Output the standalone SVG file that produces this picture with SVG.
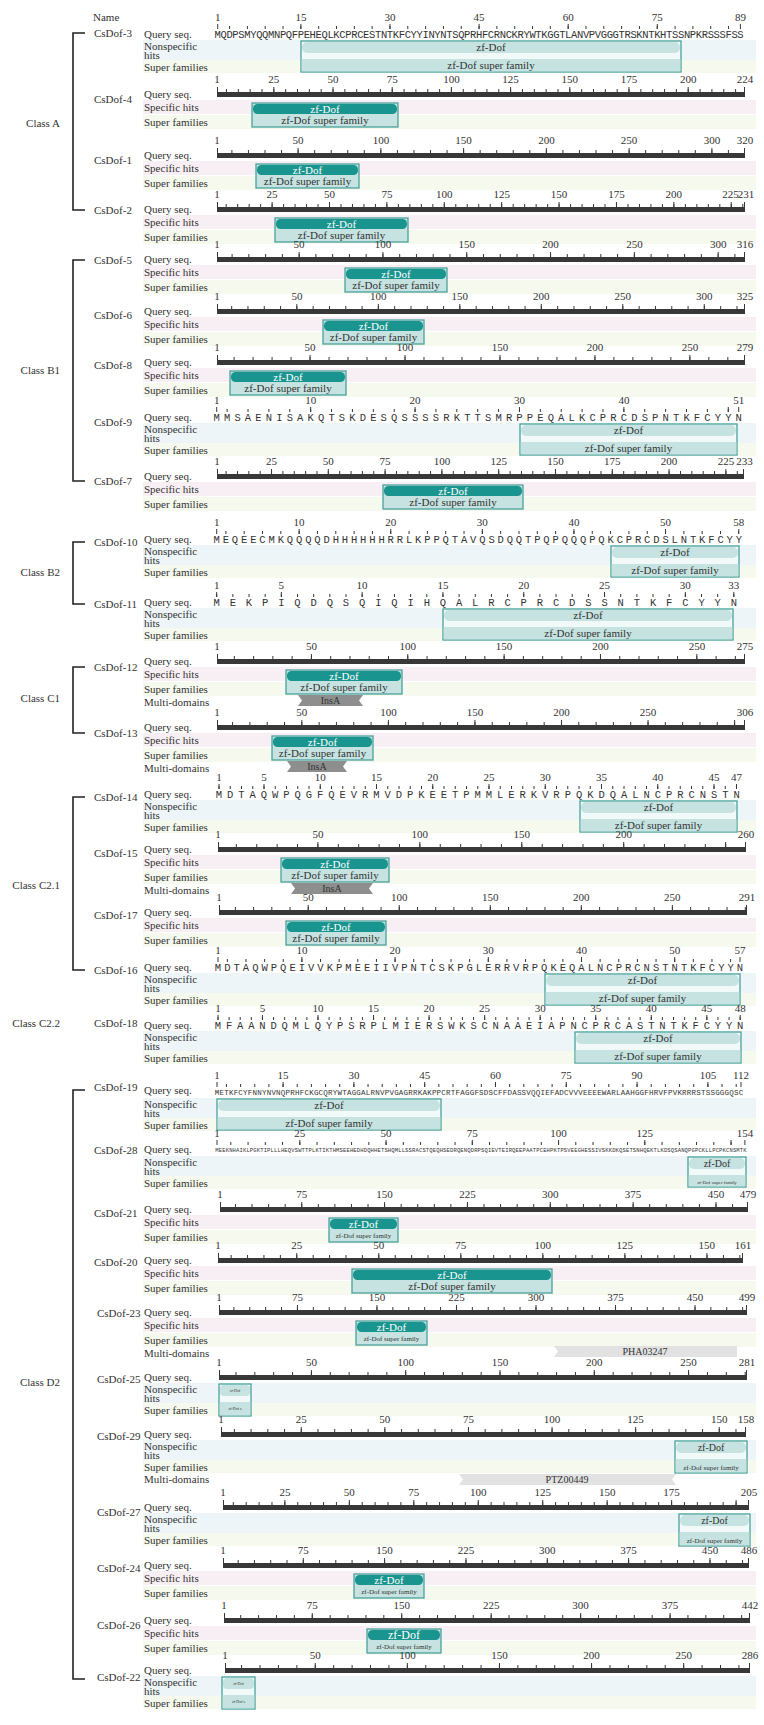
<svg xmlns="http://www.w3.org/2000/svg" width="764" height="1725" viewBox="0 0 764 1725">
<style>
text{font-family:"Liberation Serif","Times New Roman",serif;fill:#333;font-size:11px}
.n{text-anchor:middle}
.cl{text-anchor:end}
.sq{font-family:"Liberation Mono","Courier New",monospace;font-size:10.5px}
.bar{fill:#383838}
.tk{stroke:#383838;stroke-width:1;fill:none}
.t3{stroke-width:3}
.t5{stroke-width:5}
.bs{fill:#f8eff4}
.bf{fill:#f6f9ee}
.bn{fill:#edf5f8}
.ob{fill:#c6e3e1;stroke:#48a29c;stroke-width:1.3}
.on{fill:#f2f9f9;stroke:#48a29c;stroke-width:1.3}
.dk{fill:#1a948e}
.lt{fill:#c6e3e1}
.wt{fill:#fff}
.md1{fill:#8e8e8e}
.md2{fill:#e2e2e2}
.br{stroke:#222;stroke-width:1.6;fill:none}
.f4{font-size:4px}.f5{font-size:5px}.f7{font-size:7px}.f10{font-size:10px}.f12{font-size:12px}
</style>
<rect width="764" height="1725" fill="#fff"/>
<text x="93" y="20.5">Name</text>
<g id="connectors"><path class="br" d="M85 33H73V210H85M85 260H73V481H85M85 542H73V604H85M85 667H73V733H85M85 797H73V970H85M85 1090H73V1679H85"/></g>
<g id="classes">
<text class="cl" x="60" y="127">Class A</text>
<text class="cl" x="60" y="374">Class B1</text>
<text class="cl" x="60" y="576">Class B2</text>
<text class="cl" x="60" y="702">Class C1</text>
<text class="cl" x="60" y="889">Class C2.1</text>
<text class="cl" x="60" y="1027">Class C2.2</text>
<text class="cl" x="60" y="1386">Class D2</text>
</g>

<g id="CsDof-3">
<rect class="bn" x="143" y="40" width="613" height="20"/><rect class="bf" x="143" y="60" width="613" height="13"/>
<text x="94" y="36.8">CsDof-3</text><text x="144" y="38">Query seq.</text><text x="144" y="50">Nonspecific</text><text x="144" y="59">hits</text><text x="144" y="71">Super families</text>
<text class="n" y="20.8"><tspan x="217.7">1</tspan><tspan x="300.9">15</tspan><tspan x="390">30</tspan><tspan x="479.1">45</tspan><tspan x="568.2">60</tspan><tspan x="657.3">75</tspan><tspan x="740.4">89</tspan></text>
<line class="tk t3" x1="229.08" y1="27.5" x2="741" y2="27.5" stroke-dasharray="1 16.82"/>
<line class="tk t5" x1="300.36" y1="26.5" x2="741" y2="26.5" stroke-dasharray="1 88.1"/>
<path class="tk" d="M217.7 24v5M740.4 24v5"/>
<text class="sq" x="214.55" y="37.7" style="letter-spacing:-0.36px">MQDPSMYQQMNPQFPEHEQLKCPRCESTNTKFCYYINYNTSQPRHFCRNCKRYWTKGGTLANVPVGGGTRSKNTKHTSSNPKRSSSFSS</text>
<rect class="on" x="301" y="41" width="380" height="31"/><rect class="lt" x="302" y="42" width="378" height="11" rx="5"/><rect class="lt" x="301.7" y="59" width="378.6" height="12.3"/>
<text class="n" x="491" y="51.3">zf-Dof</text><text class="n" x="491" y="69">zf-Dof super family</text>
</g>

<g id="CsDof-4">
<rect class="bs" x="143" y="100" width="613" height="14"/><rect class="bf" x="143" y="115" width="613" height="14"/>
<text x="94" y="102.8">CsDof-4</text><text x="144" y="98">Query seq.</text><text x="144" y="111">Specific hits</text><text x="144" y="126">Super families</text>
<text class="n" y="83"><tspan x="217">1</tspan><tspan x="273.8">25</tspan><tspan x="333">50</tspan><tspan x="392.2">75</tspan><tspan x="451.4">100</tspan><tspan x="510.6">125</tspan><tspan x="569.8">150</tspan><tspan x="629">175</tspan><tspan x="688.2">200</tspan><tspan x="745">224</tspan></text>
<rect class="bar" x="217" y="92" width="528" height="5"/>
<line class="tk t3" x1="225.97" y1="90.5" x2="745" y2="90.5" stroke-dasharray="1 10.84"/>
<line class="tk t5" x1="273.33" y1="89.5" x2="745" y2="89.5" stroke-dasharray="1 58.19"/>
<path class="tk" d="M217.5 87v5M744.5 87v5"/>
<rect class="ob" x="252" y="103" width="146" height="24"/><rect class="dk" x="253" y="104" width="144" height="10" rx="4.5"/>
<text class="n wt" x="325" y="112.8">zf-Dof</text><text class="n" x="325" y="124">zf-Dof super family</text>
</g>

<g id="CsDof-1">
<rect class="bs" x="143" y="161" width="613" height="14"/><rect class="bf" x="143" y="176" width="613" height="14"/>
<text x="94" y="163.8">CsDof-1</text><text x="144" y="159">Query seq.</text><text x="144" y="172">Specific hits</text><text x="144" y="187">Super families</text>
<text class="n" y="144"><tspan x="217">1</tspan><tspan x="298.1">50</tspan><tspan x="380.9">100</tspan><tspan x="463.6">150</tspan><tspan x="546.4">200</tspan><tspan x="629.1">250</tspan><tspan x="711.9">300</tspan><tspan x="745">320</tspan></text>
<rect class="bar" x="217" y="153" width="528" height="5"/>
<line class="tk t3" x1="231.4" y1="151.5" x2="745" y2="151.5" stroke-dasharray="1 15.55"/>
<line class="tk t5" x1="297.6" y1="150.5" x2="745" y2="150.5" stroke-dasharray="1 81.76"/>
<path class="tk" d="M217.5 148v5M744.5 148v5"/>
<rect class="ob" x="256" y="164" width="103" height="24"/><rect class="dk" x="257" y="165" width="101" height="10" rx="4.5"/>
<text class="n wt" x="307.5" y="173.8">zf-Dof</text><text class="n" x="307.5" y="185">zf-Dof super family</text>
</g>

<g id="CsDof-2">
<rect class="bs" x="143" y="215" width="613" height="14"/><rect class="bf" x="143" y="230" width="613" height="14"/>
<text x="94" y="213.8">CsDof-2</text><text x="144" y="213">Query seq.</text><text x="144" y="226">Specific hits</text><text x="144" y="241">Super families</text>
<text class="n" y="198"><tspan x="217">1</tspan><tspan x="272.1">25</tspan><tspan x="329.5">50</tspan><tspan x="386.9">75</tspan><tspan x="444.3">100</tspan><tspan x="501.7">125</tspan><tspan x="559">150</tspan><tspan x="616.4">175</tspan><tspan x="673.8">200</tspan><tspan x="730.5">225</tspan><tspan x="746">231</tspan></text>
<rect class="bar" x="217" y="207" width="528" height="5"/>
<line class="tk t3" x1="225.68" y1="205.5" x2="745" y2="205.5" stroke-dasharray="1 10.48"/>
<line class="tk t5" x1="271.6" y1="204.5" x2="745" y2="204.5" stroke-dasharray="1 56.39"/>
<path class="tk" d="M217.5 202v5M744.5 202v5"/>
<rect class="ob" x="275" y="218" width="133" height="24"/><rect class="dk" x="276" y="219" width="131" height="10" rx="4.5"/>
<text class="n wt" x="341.5" y="227.8">zf-Dof</text><text class="n" x="341.5" y="239">zf-Dof super family</text>
</g>

<g id="CsDof-5">
<rect class="bs" x="143" y="265" width="613" height="14"/><rect class="bf" x="143" y="280" width="613" height="14"/>
<text x="94" y="263.8">CsDof-5</text><text x="144" y="263">Query seq.</text><text x="144" y="276">Specific hits</text><text x="144" y="291">Super families</text>
<text class="n" y="248"><tspan x="217">1</tspan><tspan x="299.1">50</tspan><tspan x="382.9">100</tspan><tspan x="466.8">150</tspan><tspan x="550.6">200</tspan><tspan x="634.4">250</tspan><tspan x="718.2">300</tspan><tspan x="745">316</tspan></text>
<rect class="bar" x="217" y="257" width="528" height="5"/>
<line class="tk t3" x1="231.59" y1="255.5" x2="745" y2="255.5" stroke-dasharray="1 15.76"/>
<line class="tk t5" x1="298.63" y1="254.5" x2="745" y2="254.5" stroke-dasharray="1 82.81"/>
<path class="tk" d="M217.5 252v5M744.5 252v5"/>
<rect class="ob" x="345" y="268" width="102" height="24"/><rect class="dk" x="346" y="269" width="100" height="10" rx="4.5"/>
<text class="n wt" x="396" y="277.8">zf-Dof</text><text class="n" x="396" y="289">zf-Dof super family</text>
</g>

<g id="CsDof-6">
<rect class="bs" x="143" y="317" width="613" height="14"/><rect class="bf" x="143" y="332" width="613" height="14"/>
<text x="94" y="318.8">CsDof-6</text><text x="144" y="315">Query seq.</text><text x="144" y="328">Specific hits</text><text x="144" y="343">Super families</text>
<text class="n" y="300"><tspan x="217">1</tspan><tspan x="296.9">50</tspan><tspan x="378.3">100</tspan><tspan x="459.8">150</tspan><tspan x="541.3">200</tspan><tspan x="622.8">250</tspan><tspan x="704.3">300</tspan><tspan x="745">325</tspan></text>
<rect class="bar" x="217" y="309" width="528" height="5"/>
<line class="tk t3" x1="231.17" y1="307.5" x2="745" y2="307.5" stroke-dasharray="1 15.3"/>
<line class="tk t5" x1="296.35" y1="306.5" x2="745" y2="306.5" stroke-dasharray="1 80.48"/>
<path class="tk" d="M217.5 304v5M744.5 304v5"/>
<rect class="ob" x="323" y="320" width="101" height="24"/><rect class="dk" x="324" y="321" width="99" height="10" rx="4.5"/>
<text class="n wt" x="373.5" y="329.8">zf-Dof</text><text class="n" x="373.5" y="341">zf-Dof super family</text>
</g>

<g id="CsDof-8">
<rect class="bs" x="143" y="368" width="613" height="14"/><rect class="bf" x="143" y="383" width="613" height="14"/>
<text x="94" y="368.8">CsDof-8</text><text x="144" y="366">Query seq.</text><text x="144" y="379">Specific hits</text><text x="144" y="394">Super families</text>
<text class="n" y="351"><tspan x="217">1</tspan><tspan x="310.1">50</tspan><tspan x="405">100</tspan><tspan x="500">150</tspan><tspan x="595">200</tspan><tspan x="689.9">250</tspan><tspan x="745">279</tspan></text>
<rect class="bar" x="217" y="360" width="528" height="5"/>
<line class="tk t3" x1="233.59" y1="358.5" x2="745" y2="358.5" stroke-dasharray="1 17.99"/>
<line class="tk t5" x1="309.56" y1="357.5" x2="745" y2="357.5" stroke-dasharray="1 93.96"/>
<path class="tk" d="M217.5 355v5M744.5 355v5"/>
<rect class="ob" x="230" y="371" width="116" height="24"/><rect class="dk" x="231" y="372" width="114" height="10" rx="4.5"/>
<text class="n wt" x="288" y="380.8">zf-Dof</text><text class="n" x="288" y="392">zf-Dof super family</text>
</g>

<g id="CsDof-9">
<rect class="bn" x="143" y="423" width="613" height="20"/><rect class="bf" x="143" y="443" width="613" height="13"/>
<text x="94" y="425.8">CsDof-9</text><text x="144" y="421">Query seq.</text><text x="144" y="433">Nonspecific</text><text x="144" y="442">hits</text><text x="144" y="454">Super families</text>
<text class="n" y="403.8"><tspan x="216.7">1</tspan><tspan x="310.7">10</tspan><tspan x="415.1">20</tspan><tspan x="519.5">30</tspan><tspan x="623.9">40</tspan><tspan x="738.7">51</tspan></text>
<line class="tk t3" x1="226.64" y1="410.5" x2="739" y2="410.5" stroke-dasharray="1 19.88"/>
<line class="tk t5" x1="310.16" y1="409.5" x2="739" y2="409.5" stroke-dasharray="1 103.4"/>
<path class="tk" d="M216.7 407v5M738.7 407v5"/>
<text class="sq" x="213.55" y="420.7" style="letter-spacing:4.14px">MMSAENISAKQTSKDESQSSSSRKTTSMRPPEQALKCPRCDSPNTKFCYYN</text>
<rect class="on" x="520" y="424" width="217" height="31"/><rect class="lt" x="521" y="425" width="215" height="11" rx="5"/><rect class="lt" x="520.7" y="442" width="215.6" height="12.3"/>
<text class="n" x="628.5" y="434.3">zf-Dof</text><text class="n" x="628.5" y="452">zf-Dof super family</text>
</g>

<g id="CsDof-7">
<rect class="bs" x="143" y="482" width="613" height="14"/><rect class="bf" x="143" y="497" width="613" height="14"/>
<text x="94" y="484.8">CsDof-7</text><text x="144" y="480">Query seq.</text><text x="144" y="493">Specific hits</text><text x="144" y="508">Super families</text>
<text class="n" y="465"><tspan x="217">1</tspan><tspan x="271.5">25</tspan><tspan x="328.3">50</tspan><tspan x="385.1">75</tspan><tspan x="441.9">100</tspan><tspan x="498.7">125</tspan><tspan x="555.5">150</tspan><tspan x="612.3">175</tspan><tspan x="669.1">200</tspan><tspan x="725.9">225</tspan><tspan x="744.5">233</tspan></text>
<rect class="bar" x="217" y="474" width="527" height="5"/>
<line class="tk t3" x1="225.59" y1="472.5" x2="744" y2="472.5" stroke-dasharray="1 10.36"/>
<line class="tk t5" x1="271.02" y1="471.5" x2="744" y2="471.5" stroke-dasharray="1 55.79"/>
<path class="tk" d="M217.5 469v5M743.5 469v5"/>
<rect class="ob" x="383" y="485" width="140" height="24"/><rect class="dk" x="384" y="486" width="138" height="10" rx="4.5"/>
<text class="n wt" x="453" y="494.8">zf-Dof</text><text class="n" x="453" y="506">zf-Dof super family</text>
</g>

<g id="CsDof-10">
<rect class="bn" x="143" y="545" width="613" height="20"/><rect class="bf" x="143" y="565" width="613" height="13"/>
<text x="94" y="545.8">CsDof-10</text><text x="144" y="543">Query seq.</text><text x="144" y="555">Nonspecific</text><text x="144" y="564">hits</text><text x="144" y="576">Super families</text>
<text class="n" y="525.8"><tspan x="216.7">1</tspan><tspan x="299.1">10</tspan><tspan x="390.7">20</tspan><tspan x="482.3">30</tspan><tspan x="573.9">40</tspan><tspan x="665.5">50</tspan><tspan x="738.8">58</tspan></text>
<line class="tk t3" x1="225.36" y1="532.5" x2="739" y2="532.5" stroke-dasharray="1 17.32"/>
<line class="tk t5" x1="298.64" y1="531.5" x2="739" y2="531.5" stroke-dasharray="1 90.6"/>
<path class="tk" d="M216.7 529v5M738.8 529v5"/>
<text class="sq" x="213.55" y="542.7" style="letter-spacing:2.86px">MEQEECMKQQQQDHHHHHHRRLKPPQTAVQSDQQTPQPQQQPQKCPRCDSLNTKFCYY</text>
<rect class="on" x="611" y="546" width="128" height="31"/><rect class="lt" x="612" y="547" width="126" height="11" rx="5"/><rect class="lt" x="611.7" y="564" width="126.6" height="12.3"/>
<text class="n" x="675" y="556.3">zf-Dof</text><text class="n" x="675" y="574">zf-Dof super family</text>
</g>

<g id="CsDof-11">
<rect class="bn" x="143" y="608" width="613" height="20"/><rect class="bf" x="143" y="628" width="613" height="13"/>
<text x="94" y="607.8">CsDof-11</text><text x="144" y="606">Query seq.</text><text x="144" y="618">Nonspecific</text><text x="144" y="627">hits</text><text x="144" y="639">Super families</text>
<text class="n" y="588.8"><tspan x="216.7">1</tspan><tspan x="281.3">5</tspan><tspan x="362.1">10</tspan><tspan x="442.9">15</tspan><tspan x="523.7">20</tspan><tspan x="604.5">25</tspan><tspan x="685.3">30</tspan><tspan x="733.8">33</tspan></text>
<line class="tk t3" x1="216.2" y1="595.5" x2="735" y2="595.5" stroke-dasharray="1 15.16"/>
<line class="tk t5" x1="280.84" y1="594.5" x2="735" y2="594.5" stroke-dasharray="1 79.8"/>
<path class="tk" d="M216.7 592v5M733.8 592v5"/>
<text class="sq" x="213.55" y="605.7" style="letter-spacing:9.86px">MEKPIQDQSQIQIHQALRCPRCDSSNTKFCYYN</text>
<rect class="on" x="443" y="609" width="290" height="31"/><rect class="lt" x="444" y="610" width="288" height="11" rx="5"/><rect class="lt" x="443.7" y="627" width="288.6" height="12.3"/>
<text class="n" x="588" y="619.3">zf-Dof</text><text class="n" x="588" y="637">zf-Dof super family</text>
</g>

<g id="CsDof-12">
<rect class="bs" x="143" y="667" width="613" height="14"/><rect class="bf" x="143" y="682" width="613" height="14"/>
<text x="94" y="670.8">CsDof-12</text><text x="144" y="665">Query seq.</text><text x="144" y="678">Specific hits</text><text x="144" y="693">Super families</text><text x="144" y="706">Multi-domains</text>
<text class="n" y="650"><tspan x="217">1</tspan><tspan x="311.4">50</tspan><tspan x="407.8">100</tspan><tspan x="504.1">150</tspan><tspan x="600.5">200</tspan><tspan x="696.9">250</tspan><tspan x="745">275</tspan></text>
<rect class="bar" x="217" y="659" width="528" height="5"/>
<line class="tk t3" x1="233.84" y1="657.5" x2="745" y2="657.5" stroke-dasharray="1 18.27"/>
<line class="tk t5" x1="310.92" y1="656.5" x2="745" y2="656.5" stroke-dasharray="1 95.35"/>
<path class="tk" d="M217.5 654v5M744.5 654v5"/>
<rect class="ob" x="286" y="670" width="116" height="24"/><rect class="dk" x="287" y="671" width="114" height="10" rx="4.5"/>
<text class="n wt" x="344" y="679.8">zf-Dof</text><text class="n" x="344" y="691">zf-Dof super family</text>
<polygon class="md1" points="298,695 363,695 359,700.5 363,706 298,706 302,700.5"/><text class="n f10" x="330.5" y="704">InsA</text>
</g>

<g id="CsDof-13">
<rect class="bs" x="143" y="733" width="613" height="14"/><rect class="bf" x="143" y="748" width="613" height="14"/>
<text x="94" y="736.8">CsDof-13</text><text x="144" y="731">Query seq.</text><text x="144" y="744">Specific hits</text><text x="144" y="759">Super families</text><text x="144" y="772">Multi-domains</text>
<text class="n" y="716"><tspan x="217">1</tspan><tspan x="301.8">50</tspan><tspan x="388.4">100</tspan><tspan x="475">150</tspan><tspan x="561.5">200</tspan><tspan x="648.1">250</tspan><tspan x="745">306</tspan></text>
<rect class="bar" x="217" y="725" width="528" height="5"/>
<line class="tk t3" x1="232.08" y1="723.5" x2="745" y2="723.5" stroke-dasharray="1 16.31"/>
<line class="tk t5" x1="301.32" y1="722.5" x2="745" y2="722.5" stroke-dasharray="1 85.56"/>
<path class="tk" d="M217.5 720v5M744.5 720v5"/>
<rect class="ob" x="272" y="736" width="101" height="24"/><rect class="dk" x="273" y="737" width="99" height="10" rx="4.5"/>
<text class="n wt" x="322.5" y="745.8">zf-Dof</text><text class="n" x="322.5" y="757">zf-Dof super family</text>
<polygon class="md1" points="287,761 347,761 343,766.5 347,772 287,772 291,766.5"/><text class="n f10" x="317" y="770">InsA</text>
</g>

<g id="CsDof-14">
<rect class="bn" x="143" y="800" width="613" height="20"/><rect class="bf" x="143" y="820" width="613" height="13"/>
<text x="94" y="800.8">CsDof-14</text><text x="144" y="798">Query seq.</text><text x="144" y="810">Nonspecific</text><text x="144" y="819">hits</text><text x="144" y="831">Super families</text>
<text class="n" y="780.8"><tspan x="219">1</tspan><tspan x="264">5</tspan><tspan x="320.3">10</tspan><tspan x="376.5">15</tspan><tspan x="432.8">20</tspan><tspan x="489">25</tspan><tspan x="545.3">30</tspan><tspan x="601.5">35</tspan><tspan x="657.8">40</tspan><tspan x="714">45</tspan><tspan x="736.5">47</tspan></text>
<line class="tk t3" x1="218.5" y1="787.5" x2="737" y2="787.5" stroke-dasharray="1 10.25"/>
<line class="tk t5" x1="263.5" y1="786.5" x2="737" y2="786.5" stroke-dasharray="1 55.25"/>
<path class="tk" d="M219 784v5M736.5 784v5"/>
<text class="sq" x="215.85" y="797.7" style="letter-spacing:4.95px">MDTAQWPQGFQEVRMVDPKEETPMMLERKVRPQKDQALNCPRCNSTN</text>
<rect class="on" x="580" y="801" width="157" height="31"/><rect class="lt" x="581" y="802" width="155" height="11" rx="5"/><rect class="lt" x="580.7" y="819" width="155.6" height="12.3"/>
<text class="n" x="658.5" y="811.3">zf-Dof</text><text class="n" x="658.5" y="829">zf-Dof super family</text>
</g>

<g id="CsDof-15">
<rect class="bs" x="143" y="855" width="613" height="14"/><rect class="bf" x="143" y="870" width="613" height="14"/>
<text x="94" y="856.8">CsDof-15</text><text x="144" y="853">Query seq.</text><text x="144" y="866">Specific hits</text><text x="144" y="881">Super families</text><text x="144" y="894">Multi-domains</text>
<text class="n" y="838"><tspan x="218">1</tspan><tspan x="317.9">50</tspan><tspan x="419.8">100</tspan><tspan x="521.8">150</tspan><tspan x="623.7">200</tspan><tspan x="746">260</tspan></text>
<rect class="bar" x="218" y="847" width="528" height="5"/>
<line class="tk t3" x1="235.85" y1="845.5" x2="746" y2="845.5" stroke-dasharray="1 19.39"/>
<line class="tk t5" x1="317.39" y1="844.5" x2="746" y2="844.5" stroke-dasharray="1 100.93"/>
<path class="tk" d="M218.5 842v5M745.5 842v5"/>
<rect class="ob" x="281" y="858" width="108" height="24"/><rect class="dk" x="282" y="859" width="106" height="10" rx="4.5"/>
<text class="n wt" x="335" y="867.8">zf-Dof</text><text class="n" x="335" y="879">zf-Dof super family</text>
<polygon class="md1" points="291,883 373,883 369,888.5 373,894 291,894 295,888.5"/><text class="n f10" x="332" y="892">InsA</text>
</g>

<g id="CsDof-17">
<rect class="bs" x="143" y="918" width="613" height="14"/><rect class="bf" x="143" y="933" width="613" height="14"/>
<text x="94" y="918.8">CsDof-17</text><text x="144" y="916">Query seq.</text><text x="144" y="929">Specific hits</text><text x="144" y="944">Super families</text>
<text class="n" y="901"><tspan x="219">1</tspan><tspan x="308.2">50</tspan><tspan x="399.2">100</tspan><tspan x="490.3">150</tspan><tspan x="581.3">200</tspan><tspan x="672.3">250</tspan><tspan x="747">291</tspan></text>
<rect class="bar" x="219" y="910" width="528" height="5"/>
<line class="tk t3" x1="234.89" y1="908.5" x2="747" y2="908.5" stroke-dasharray="1 17.21"/>
<line class="tk t5" x1="307.71" y1="907.5" x2="747" y2="907.5" stroke-dasharray="1 90.03"/>
<path class="tk" d="M219.5 905v5M746.5 905v5"/>
<rect class="ob" x="286" y="921" width="100" height="24"/><rect class="dk" x="287" y="922" width="98" height="10" rx="4.5"/>
<text class="n wt" x="336" y="930.8">zf-Dof</text><text class="n" x="336" y="942">zf-Dof super family</text>
</g>

<g id="CsDof-16">
<rect class="bn" x="143" y="973" width="613" height="20"/><rect class="bf" x="143" y="993" width="613" height="13"/>
<text x="94" y="973.8">CsDof-16</text><text x="144" y="971">Query seq.</text><text x="144" y="983">Nonspecific</text><text x="144" y="992">hits</text><text x="144" y="1004">Super families</text>
<text class="n" y="953.8"><tspan x="218">1</tspan><tspan x="301.9">10</tspan><tspan x="395.1">20</tspan><tspan x="488.3">30</tspan><tspan x="581.5">40</tspan><tspan x="674.7">50</tspan><tspan x="740">57</tspan></text>
<line class="tk t3" x1="226.82" y1="960.5" x2="741" y2="960.5" stroke-dasharray="1 17.64"/>
<line class="tk t5" x1="301.38" y1="959.5" x2="741" y2="959.5" stroke-dasharray="1 92.2"/>
<path class="tk" d="M218 957v5M740 957v5"/>
<text class="sq" x="214.85" y="970.7" style="letter-spacing:3.02px">MDTAQWPQEIVVKPMEEIIVPNTCSKPGLERRVRPQKEQALNCPRCNSTNTKFCYYN</text>
<rect class="on" x="545" y="974" width="195" height="31"/><rect class="lt" x="546" y="975" width="193" height="11" rx="5"/><rect class="lt" x="545.7" y="992" width="193.6" height="12.3"/>
<text class="n" x="642.5" y="984.3">zf-Dof</text><text class="n" x="642.5" y="1002">zf-Dof super family</text>
</g>

<g id="CsDof-18">
<rect class="bn" x="143" y="1031" width="613" height="20"/><rect class="bf" x="143" y="1051" width="613" height="13"/>
<text x="94" y="1026.8">CsDof-18</text><text x="144" y="1029">Query seq.</text><text x="144" y="1041">Nonspecific</text><text x="144" y="1050">hits</text><text x="144" y="1062">Super families</text>
<text class="n" y="1011.8"><tspan x="218">1</tspan><tspan x="262.4">5</tspan><tspan x="318">10</tspan><tspan x="373.5">15</tspan><tspan x="429.1">20</tspan><tspan x="484.6">25</tspan><tspan x="540.2">30</tspan><tspan x="595.7">35</tspan><tspan x="651.3">40</tspan><tspan x="706.8">45</tspan><tspan x="740.2">48</tspan></text>
<line class="tk t3" x1="217.5" y1="1018.5" x2="741" y2="1018.5" stroke-dasharray="1 10.11"/>
<line class="tk t5" x1="261.94" y1="1017.5" x2="741" y2="1017.5" stroke-dasharray="1 54.55"/>
<path class="tk" d="M218 1015v5M740.2 1015v5"/>
<text class="sq" x="214.85" y="1028.7" style="letter-spacing:4.81px">MFAANDQMLQYPSRPLMIERSWKSCNAAEIAPNCPRCASTNTKFCYYN</text>
<rect class="on" x="575" y="1032" width="166" height="31"/><rect class="lt" x="576" y="1033" width="164" height="11" rx="5"/><rect class="lt" x="575.7" y="1050" width="164.6" height="12.3"/>
<text class="n" x="658" y="1042.3">zf-Dof</text><text class="n" x="658" y="1060">zf-Dof super family</text>
</g>

<g id="CsDof-19">
<rect class="bn" x="143" y="1098" width="613" height="20"/><rect class="bf" x="143" y="1118" width="613" height="13"/>
<text x="94" y="1090.8">CsDof-19</text><text x="144" y="1094">Query seq.</text><text x="144" y="1108">Nonspecific</text><text x="144" y="1117">hits</text><text x="144" y="1129">Super families</text>
<text class="n" y="1078.8"><tspan x="217">1</tspan><tspan x="283.1">15</tspan><tspan x="353.9">30</tspan><tspan x="424.7">45</tspan><tspan x="495.5">60</tspan><tspan x="566.3">75</tspan><tspan x="637.1">90</tspan><tspan x="707.9">105</tspan><tspan x="741">112</tspan></text>
<line class="tk t3" x1="225.94" y1="1085.5" x2="742" y2="1085.5" stroke-dasharray="1 13.16"/>
<line class="tk t5" x1="282.58" y1="1084.5" x2="742" y2="1084.5" stroke-dasharray="1 69.8"/>
<path class="tk" d="M217 1082v5M741 1082v5"/>
<text class="sq" x="214.75" y="1094.5" style="font-size:7.5px;letter-spacing:0.22px">METKFCYFNNYNVNQPRHFCKGCQRYWTAGGALRNVPVGAGRRKAKPPCRTFAGGFSDSCFFDASSVQQIEFADCVVVEEEEWARLAAHGGFHRVFPVKRRRSTSSGGGQSC</text>
<rect class="on" x="217" y="1099" width="224" height="31"/><rect class="lt" x="218" y="1100" width="222" height="11" rx="5"/><rect class="lt" x="217.7" y="1117" width="222.6" height="12.3"/>
<text class="n" x="329" y="1109.3">zf-Dof</text><text class="n" x="329" y="1127">zf-Dof super family</text>
</g>

<g id="CsDof-28">
<rect class="bn" x="143" y="1156" width="613" height="20"/><rect class="bf" x="143" y="1176" width="613" height="13"/>
<text x="94" y="1153.8">CsDof-28</text><text x="144" y="1153">Query seq.</text><text x="144" y="1166">Nonspecific</text><text x="144" y="1175">hits</text><text x="144" y="1187">Super families</text>
<text class="n" y="1136.8"><tspan x="217">1</tspan><tspan x="299.8">25</tspan><tspan x="386.1">50</tspan><tspan x="472.3">75</tspan><tspan x="558.6">100</tspan><tspan x="644.8">125</tspan><tspan x="744.9">154</tspan></text>
<line class="tk t3" x1="230.3" y1="1143.5" x2="745" y2="1143.5" stroke-dasharray="1 16.25"/>
<line class="tk t5" x1="299.3" y1="1142.5" x2="745" y2="1142.5" stroke-dasharray="1 85.25"/>
<path class="tk" d="M217 1140v5M744.9 1140v5"/>
<text class="sq" x="215.35" y="1152" style="font-size:5.5px;letter-spacing:0.15px">MEEKNHAIKLPGKTIPLLLHEQVSWTTPLKTIKTHMSEEHEDHDQHHETSHQMLLSSRACSTQEQHSEDRQENQDRPSQIEVTEIRQEEPAATPCEHPKTPSVEEGHESSIVSKKDKQSETSNHQEKTLKDSQSANQPGPCKLLPCPKCNSMTK</text>
<rect class="on" x="688" y="1157" width="58" height="30"/><rect class="lt" x="689" y="1158" width="56" height="11" rx="5"/><rect class="lt" x="688.7" y="1175" width="56.6" height="11.3"/>
<text class="n f10" x="717" y="1166.5">zf-Dof</text><text class="n f5" x="717" y="1183.5">zf-Dof super family</text>
</g>

<g id="CsDof-21">
<rect class="bs" x="143" y="1215" width="613" height="14"/><rect class="bf" x="143" y="1230" width="613" height="14"/>
<text x="94" y="1216.8">CsDof-21</text><text x="144" y="1213">Query seq.</text><text x="144" y="1226">Specific hits</text><text x="144" y="1241">Super families</text>
<text class="n" y="1198"><tspan x="220">1</tspan><tspan x="301.7">75</tspan><tspan x="384.6">150</tspan><tspan x="467.4">225</tspan><tspan x="550.3">300</tspan><tspan x="633.1">375</tspan><tspan x="715.9">450</tspan><tspan x="748">479</tspan></text>
<rect class="bar" x="220" y="1207" width="528" height="5"/>
<line class="tk t3" x1="234.96" y1="1205.5" x2="748" y2="1205.5" stroke-dasharray="1 15.57"/>
<line class="tk t5" x1="301.24" y1="1204.5" x2="748" y2="1204.5" stroke-dasharray="1 81.85"/>
<path class="tk" d="M220.5 1202v5M747.5 1202v5"/>
<rect class="ob" x="329" y="1218" width="69" height="24"/><rect class="dk" x="330" y="1219" width="67" height="10" rx="4.5"/>
<text class="n wt" x="363.5" y="1227.8">zf-Dof</text><text class="n f7" x="363.5" y="1238">zf-Dof super family</text>
</g>

<g id="CsDof-20">
<rect class="bs" x="143" y="1266" width="613" height="14"/><rect class="bf" x="143" y="1281" width="613" height="14"/>
<text x="94" y="1265.8">CsDof-20</text><text x="144" y="1264">Query seq.</text><text x="144" y="1277">Specific hits</text><text x="144" y="1292">Super families</text>
<text class="n" y="1249"><tspan x="218">1</tspan><tspan x="296.8">25</tspan><tspan x="378.8">50</tspan><tspan x="460.8">75</tspan><tspan x="542.8">100</tspan><tspan x="624.8">125</tspan><tspan x="706.8">150</tspan><tspan x="743">161</tspan></text>
<rect class="bar" x="218" y="1258" width="525" height="5"/>
<line class="tk t3" x1="230.63" y1="1256.5" x2="743" y2="1256.5" stroke-dasharray="1 15.41"/>
<line class="tk t5" x1="296.25" y1="1255.5" x2="743" y2="1255.5" stroke-dasharray="1 81.03"/>
<path class="tk" d="M218.5 1253v5M742.5 1253v5"/>
<rect class="ob" x="352" y="1269" width="200" height="24"/><rect class="dk" x="353" y="1270" width="198" height="10" rx="4.5"/>
<text class="n wt" x="452" y="1278.8">zf-Dof</text><text class="n" x="452" y="1290">zf-Dof super family</text>
</g>

<g id="CsDof-23">
<rect class="bs" x="143" y="1318" width="613" height="14"/><rect class="bf" x="143" y="1333" width="613" height="14"/>
<text x="97" y="1316.8">CsDof-23</text><text x="144" y="1316">Query seq.</text><text x="144" y="1329">Specific hits</text><text x="144" y="1344">Super families</text><text x="144" y="1357">Multi-domains</text>
<text class="n" y="1301"><tspan x="219">1</tspan><tspan x="297.5">75</tspan><tspan x="377">150</tspan><tspan x="456.5">225</tspan><tspan x="536">300</tspan><tspan x="615.5">375</tspan><tspan x="695.1">450</tspan><tspan x="747">499</tspan></text>
<rect class="bar" x="219" y="1310" width="528" height="5"/>
<line class="tk t3" x1="233.34" y1="1308.5" x2="747" y2="1308.5" stroke-dasharray="1 14.9"/>
<line class="tk t5" x1="296.96" y1="1307.5" x2="747" y2="1307.5" stroke-dasharray="1 78.52"/>
<path class="tk" d="M219.5 1305v5M746.5 1305v5"/>
<rect class="ob" x="356" y="1321" width="71" height="24"/><rect class="dk" x="357" y="1322" width="69" height="10" rx="4.5"/>
<text class="n wt" x="391.5" y="1330.8">zf-Dof</text><text class="n f7" x="391.5" y="1341">zf-Dof super family</text>
<polygon class="md2" points="554,1346 737,1346 737,1357 554,1357 558,1351.5"/><text class="n f10" x="645" y="1355">PHA03247</text>
</g>

<g id="CsDof-25">
<rect class="bn" x="143" y="1383" width="613" height="20"/><rect class="bf" x="143" y="1403" width="613" height="13"/>
<text x="97" y="1382.8">CsDof-25</text><text x="144" y="1381">Query seq.</text><text x="144" y="1393">Nonspecific</text><text x="144" y="1402">hits</text><text x="144" y="1414">Super families</text>
<text class="n" y="1366"><tspan x="219">1</tspan><tspan x="311.4">50</tspan><tspan x="405.7">100</tspan><tspan x="500">150</tspan><tspan x="594.3">200</tspan><tspan x="688.6">250</tspan><tspan x="747">281</tspan></text>
<rect class="bar" x="219" y="1375" width="528" height="5"/>
<line class="tk t3" x1="235.47" y1="1373.5" x2="747" y2="1373.5" stroke-dasharray="1 17.86"/>
<line class="tk t5" x1="310.9" y1="1372.5" x2="747" y2="1372.5" stroke-dasharray="1 93.29"/>
<path class="tk" d="M219.5 1370v5M746.5 1370v5"/>
<rect class="on" x="219" y="1384" width="32" height="32"/><rect class="lt" x="220" y="1385" width="30" height="11" rx="4"/><rect class="lt" x="219.7" y="1402" width="30.6" height="13.3"/>
<text class="n f4" x="235" y="1391.5">zf-Dof</text><text class="n f4" x="235" y="1410">zf-Dof s</text>
</g>

<g id="CsDof-29">
<rect class="bn" x="143" y="1440" width="613" height="20"/><rect class="bf" x="143" y="1460" width="613" height="13"/>
<text x="97" y="1439.8">CsDof-29</text><text x="144" y="1438">Query seq.</text><text x="144" y="1450">Nonspecific</text><text x="144" y="1459">hits</text><text x="144" y="1471">Super families</text><text x="144" y="1483">Multi-domains</text>
<text class="n" y="1423"><tspan x="221">1</tspan><tspan x="301.3">25</tspan><tspan x="384.8">50</tspan><tspan x="468.4">75</tspan><tspan x="552">100</tspan><tspan x="635.6">125</tspan><tspan x="719.2">150</tspan><tspan x="746">158</tspan></text>
<rect class="bar" x="221" y="1432" width="525" height="5"/>
<line class="tk t3" x1="233.88" y1="1430.5" x2="746" y2="1430.5" stroke-dasharray="1 15.72"/>
<line class="tk t5" x1="300.75" y1="1429.5" x2="746" y2="1429.5" stroke-dasharray="1 82.6"/>
<path class="tk" d="M221.5 1427v5M745.5 1427v5"/>
<rect class="on" x="675" y="1441" width="72" height="32"/><rect class="lt" x="676" y="1442" width="70" height="11" rx="5"/><rect class="lt" x="675.7" y="1459" width="70.6" height="13.3"/>
<text class="n f10" x="711" y="1450.5">zf-Dof</text><text class="n f7" x="711" y="1470">zf-Dof super family</text>
<polygon class="md2" points="459,1474 676,1474 672,1479.5 676,1485 459,1485 463,1479.5"/><text class="n f10" x="567" y="1483">PTZ00449</text>
</g>

<g id="CsDof-27">
<rect class="bn" x="143" y="1513" width="613" height="20"/><rect class="bf" x="143" y="1533" width="613" height="13"/>
<text x="97" y="1515.8">CsDof-27</text><text x="144" y="1511">Query seq.</text><text x="144" y="1523">Nonspecific</text><text x="144" y="1532">hits</text><text x="144" y="1544">Super families</text>
<text class="n" y="1496"><tspan x="223">1</tspan><tspan x="284.9">25</tspan><tspan x="349.3">50</tspan><tspan x="413.8">75</tspan><tspan x="478.3">100</tspan><tspan x="542.7">125</tspan><tspan x="607.2">150</tspan><tspan x="671.6">175</tspan><tspan x="749">205</tspan></text>
<rect class="bar" x="223" y="1505" width="526" height="5"/>
<line class="tk t3" x1="232.81" y1="1503.5" x2="749" y2="1503.5" stroke-dasharray="1 11.89"/>
<line class="tk t5" x1="284.38" y1="1502.5" x2="749" y2="1502.5" stroke-dasharray="1 63.46"/>
<path class="tk" d="M223.5 1500v5M748.5 1500v5"/>
<rect class="on" x="679" y="1514" width="71" height="32"/><rect class="lt" x="680" y="1515" width="69" height="11" rx="5"/><rect class="lt" x="679.7" y="1532" width="69.6" height="13.3"/>
<text class="n f10" x="714.5" y="1523.5">zf-Dof</text><text class="n f7" x="714.5" y="1543">zf-Dof super family</text>
</g>

<g id="CsDof-24">
<rect class="bs" x="143" y="1571" width="613" height="14"/><rect class="bf" x="143" y="1586" width="613" height="14"/>
<text x="97" y="1571.8">CsDof-24</text><text x="144" y="1569">Query seq.</text><text x="144" y="1582">Specific hits</text><text x="144" y="1597">Super families</text>
<text class="n" y="1554"><tspan x="223">1</tspan><tspan x="303.3">75</tspan><tspan x="384.6">150</tspan><tspan x="465.9">225</tspan><tspan x="547.3">300</tspan><tspan x="628.6">375</tspan><tspan x="710">450</tspan><tspan x="749">486</tspan></text>
<rect class="bar" x="223" y="1563" width="526" height="5"/>
<line class="tk t3" x1="237.68" y1="1561.5" x2="749" y2="1561.5" stroke-dasharray="1 15.27"/>
<line class="tk t5" x1="302.76" y1="1560.5" x2="749" y2="1560.5" stroke-dasharray="1 80.34"/>
<path class="tk" d="M223.5 1558v5M748.5 1558v5"/>
<rect class="ob" x="354" y="1574" width="70" height="24"/><rect class="dk" x="355" y="1575" width="68" height="10" rx="4.5"/>
<text class="n wt" x="389" y="1583.8">zf-Dof</text><text class="n f7" x="389" y="1594">zf-Dof super family</text>
</g>

<g id="CsDof-26">
<rect class="bs" x="143" y="1626" width="613" height="14"/><rect class="bf" x="143" y="1641" width="613" height="14"/>
<text x="97" y="1628.8">CsDof-26</text><text x="144" y="1624">Query seq.</text><text x="144" y="1637">Specific hits</text><text x="144" y="1652">Super families</text>
<text class="n" y="1609"><tspan x="224">1</tspan><tspan x="312.3">75</tspan><tspan x="401.7">150</tspan><tspan x="491.2">225</tspan><tspan x="580.6">300</tspan><tspan x="670.1">375</tspan><tspan x="750">442</tspan></text>
<rect class="bar" x="224" y="1618" width="526" height="5"/>
<line class="tk t3" x1="240.2" y1="1616.5" x2="750" y2="1616.5" stroke-dasharray="1 16.89"/>
<line class="tk t5" x1="311.76" y1="1615.5" x2="750" y2="1615.5" stroke-dasharray="1 88.46"/>
<path class="tk" d="M224.5 1613v5M749.5 1613v5"/>
<rect class="ob" x="367" y="1629" width="74" height="24"/><rect class="dk" x="368" y="1630" width="72" height="10" rx="4.5"/>
<text class="n wt f12" x="404" y="1639">zf-Dof</text><text class="n f7" x="404" y="1649">zf-Dof super family</text>
</g>

<g id="CsDof-22">
<rect class="bn" x="143" y="1676" width="613" height="20"/><rect class="bf" x="143" y="1696" width="613" height="13"/>
<text x="97" y="1680.8">CsDof-22</text><text x="144" y="1674">Query seq.</text><text x="144" y="1686">Nonspecific</text><text x="144" y="1695">hits</text><text x="144" y="1707">Super families</text>
<text class="n" y="1659"><tspan x="225">1</tspan><tspan x="315.3">50</tspan><tspan x="407.4">100</tspan><tspan x="499.5">150</tspan><tspan x="591.6">200</tspan><tspan x="683.7">250</tspan><tspan x="750">286</tspan></text>
<rect class="bar" x="225" y="1668" width="525" height="5"/>
<line class="tk t3" x1="241.08" y1="1666.5" x2="750" y2="1666.5" stroke-dasharray="1 17.42"/>
<line class="tk t5" x1="314.76" y1="1665.5" x2="750" y2="1665.5" stroke-dasharray="1 91.1"/>
<path class="tk" d="M225.5 1663v5M749.5 1663v5"/>
<rect class="on" x="222" y="1677" width="33" height="32"/><rect class="lt" x="223" y="1678" width="31" height="11" rx="4"/><rect class="lt" x="222.7" y="1695" width="31.6" height="13.3"/>
<text class="n f4" x="238.5" y="1684.5">zf-Dof</text><text class="n f4" x="238.5" y="1703">zf-Dof s</text>
</g>
</svg>
